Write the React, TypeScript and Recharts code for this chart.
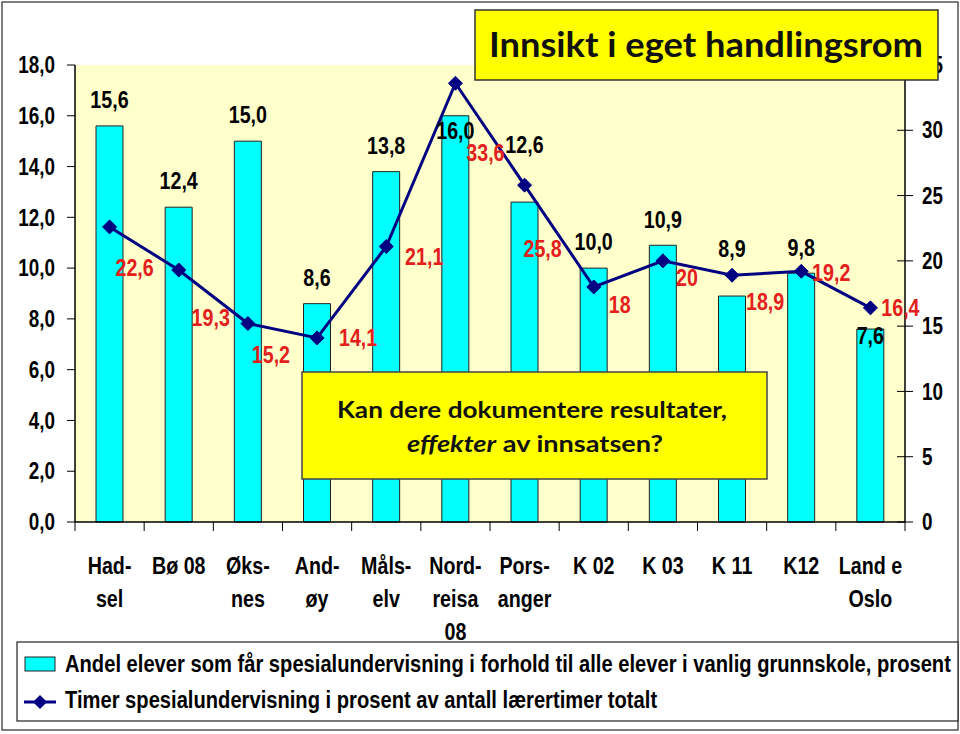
import { ComposedChart, Bar, Line, XAxis, YAxis, CartesianGrid, LabelList } from "recharts";

const categories = [
  "Had-\nsel",
  "Bø 08",
  "Øks-\nnes",
  "And-\nøy",
  "Måls-\nelv",
  "Nord-\nreisa\n08",
  "Pors-\nanger",
  "K 02",
  "K 03",
  "K 11",
  "K12",
  "Land e\nOslo",
];
const andelElever = [15.6, 12.4, 15.0, 8.6, 13.8, 16.0, 12.6, 10.0, 10.9, 8.9, 9.8, 7.6];
const timerSpes = [22.6, 19.3, 15.2, 14.1, 21.1, 33.6, 25.8, 18, 20, 18.9, 19.2, 16.4];
const leftTicks = [0, 2, 4, 6, 8, 10, 12, 14, 16, 18];
const rightTicks = [0, 5, 10, 15, 20, 25, 30, 35];

// label placement tweaks (px), same as the original slide
const barLabelDy = [-26, -26, -26, -26, -26, 15, -57, -26, -25, -47, -25, 7];
const lineLabelOffset = [
  [25, 41], [32, 48], [23, 31], [41, 0], [38, 10], [30, 70],
  [18, 64], [26, 18], [24, 17], [33, 27], [30, 1], [30, 0],
];

const data = categories.map((name, i) => ({
  name,
  andel: andelElever[i],
  timer: timerSpes[i],
}));

const W = 960;
const H = 734;
const LEFT = 75;
const RIGHT_W = 55;
const PLOT_RIGHT = W - RIGHT_W;
const PLOT_BOTTOM = 522;
const STEP = (PLOT_RIGHT - LEFT) / categories.length;

const SANS = '"Liberation Sans", Arial, sans-serif';
const CAL = 'Lato, "Open Sans", sans-serif';
const RED = "#E3201B";
const NAVY = "#000080";

const comma = (v: number) => String(v).replace(".", ",");

// Arial Narrow look-alike: bold Liberation Sans squeezed horizontally
const NText = ({ x, y, size = 23, sx = 0.82, anchor = "start", fill = "#000", central = false, children }: any) => (
  <text
    transform={`translate(${x},${y}) scale(${sx},1)`}
    textAnchor={anchor}
    dominantBaseline={central ? "central" : "auto"}
    fontFamily={SANS}
    fontWeight="bold"
    fontSize={size}
    fill={fill}
  >
    {children}
  </text>
);

const XTick = (props: any) => {
  const { x, payload, index } = props;
  const lines = String(payload.value).split("\n");
  return (
    <g>
      <line x1={x - STEP / 2} x2={x - STEP / 2} y1={PLOT_BOTTOM} y2={PLOT_BOTTOM + 9} stroke="#000" />
      {index === categories.length - 1 && (
        <line x1={x + STEP / 2} x2={x + STEP / 2} y1={PLOT_BOTTOM} y2={PLOT_BOTTOM + 9} stroke="#000" />
      )}
      {lines.map((l, k) => (
        <NText key={k} x={x} y={574 + k * 33} size={24} anchor="middle">
          {l}
        </NText>
      ))}
    </g>
  );
};

const LeftTick = (props: any) => {
  const { x, y, payload } = props;
  return (
    <NText x={x} y={y} size={23} anchor="end" central>
      {Number(payload.value).toFixed(1).replace(".", ",")}
    </NText>
  );
};

const RightTick = (props: any) => {
  const { y, payload } = props;
  return (
    <g>
      <line x1={PLOT_RIGHT - 8} x2={PLOT_RIGHT + 8} y1={y} y2={y} stroke="#000" />
      <NText x={922} y={y} size={23} central>
        {payload.value}
      </NText>
    </g>
  );
};

const Diamond = (props: any) => {
  const { cx, cy } = props;
  if (cx == null || cy == null) return null;
  const r = 7;
  return (
    <path
      d={`M${cx},${cy - r}L${cx + r},${cy}L${cx},${cy + r}L${cx - r},${cy}Z`}
      fill={NAVY}
      stroke={NAVY}
    />
  );
};

const BarLabel = (props: any) => {
  const { x, y, width, value, index } = props;
  return (
    <NText x={x + width / 2} y={y + barLabelDy[index]} size={24} anchor="middle" central>
      {Number(value).toFixed(1).replace(".", ",")}
    </NText>
  );
};

const LineLabel = (props: any) => {
  const { x, y, value, index } = props;
  const [dx, dy] = lineLabelOffset[index];
  return (
    <NText x={x + dx} y={y + dy} size={24} anchor="middle" fill={RED} central>
      {comma(value)}
    </NText>
  );
};

const Overlay = () => (
  <svg
    width={W}
    height={H}
    style={{ position: "absolute", left: 0, top: 0, pointerEvents: "none" }}
  >
    <rect x={2} y={2} width={956} height={728} fill="none" stroke="#555" strokeWidth={1.5} />

    <rect x={475} y={10} width={463} height={70} fill="#FFFF00" stroke="#333" strokeWidth={1.5} />
    <text
      x={489}
      y={57}
      fontFamily={CAL}
      fontWeight="bold"
      fontSize={34}
      fill="#111"
      textLength={434}
      lengthAdjust="spacingAndGlyphs"
    >
      Innsikt i eget handlingsrom
    </text>

    <rect x={302} y={372} width={465} height={107} fill="#FFFF00" stroke="#444" strokeWidth={1.5} />
    <text
      x={337}
      y={418}
      fontFamily={CAL}
      fontWeight="bold"
      fontSize={23}
      fill="#111"
      textLength={390}
      lengthAdjust="spacingAndGlyphs"
    >
      Kan dere dokumentere resultater,
    </text>
    <text
      x={407}
      y={452}
      fontFamily={CAL}
      fontWeight="bold"
      fontSize={23}
      fill="#111"
      textLength={256}
      lengthAdjust="spacingAndGlyphs"
    >
      <tspan fontStyle="italic">effekter</tspan> av innsatsen?
    </text>

    <rect x={17} y={642} width={941} height={79} fill="#fff" stroke="#222" strokeWidth={1.2} />
    <rect x={25} y={657} width={30} height={14} fill="#00FFFF" stroke="#222" />
    <NText x={65} y={672} size={24} sx={0.84}>
      Andel elever som får spesialundervisning i forhold til alle elever i vanlig grunnskole, prosent
    </NText>
    <line x1={24} x2={56} y1={702} y2={702} stroke={NAVY} strokeWidth={3} />
    <path d="M40,695L47,702L40,709L33,702Z" fill={NAVY} />
    <NText x={65} y={708} size={24} sx={0.84}>
      Timer spesialundervisning i prosent av antall lærertimer totalt
    </NText>
  </svg>
);

export default function App() {
  return (
    <div style={{ position: "absolute", left: 0, top: 0, width: W, height: H, background: "#fff" }}>
      <ComposedChart
        width={W}
        height={H}
        data={data}
        margin={{ top: 65, right: 0, bottom: 92, left: 0 }}
        barCategoryGap="30%"
      >
        <CartesianGrid
          yAxisId="left"
          horizontal={false}
          vertical={false}
          fill="#FFFFCC"
          stroke="none"
        />
        <XAxis
          dataKey="name"
          height={120}
          interval={0}
          tickLine={false}
          axisLine={{ stroke: "#000", strokeWidth: 1.5 }}
          tick={<XTick />}
        />
        <YAxis
          yAxisId="left"
          width={LEFT}
          domain={[0, 18]}
          ticks={leftTicks}
          tickSize={8}
          tickMargin={12}
          tickLine={{ stroke: "#000" }}
          axisLine={{ stroke: "#000", strokeWidth: 1.5 }}
          tick={<LeftTick />}
        />
        <YAxis
          yAxisId="right"
          orientation="right"
          width={RIGHT_W}
          domain={[0, 35]}
          ticks={rightTicks}
          tickLine={false}
          axisLine={{ stroke: "#000", strokeWidth: 1.5 }}
          tick={<RightTick />}
        />
        <Bar
          yAxisId="left"
          dataKey="andel"
          fill="#00FFFF"
          stroke="#222"
          strokeWidth={1}
          barSize={27}
          isAnimationActive={false}
        >
          <LabelList dataKey="andel" content={<BarLabel />} />
        </Bar>
        <Line
          yAxisId="right"
          dataKey="timer"
          type="linear"
          stroke={NAVY}
          strokeWidth={3}
          dot={<Diamond />}
          activeDot={false}
          isAnimationActive={false}
        >
          <LabelList dataKey="timer" content={<LineLabel />} />
        </Line>
      </ComposedChart>
      <Overlay />
    </div>
  );
}
